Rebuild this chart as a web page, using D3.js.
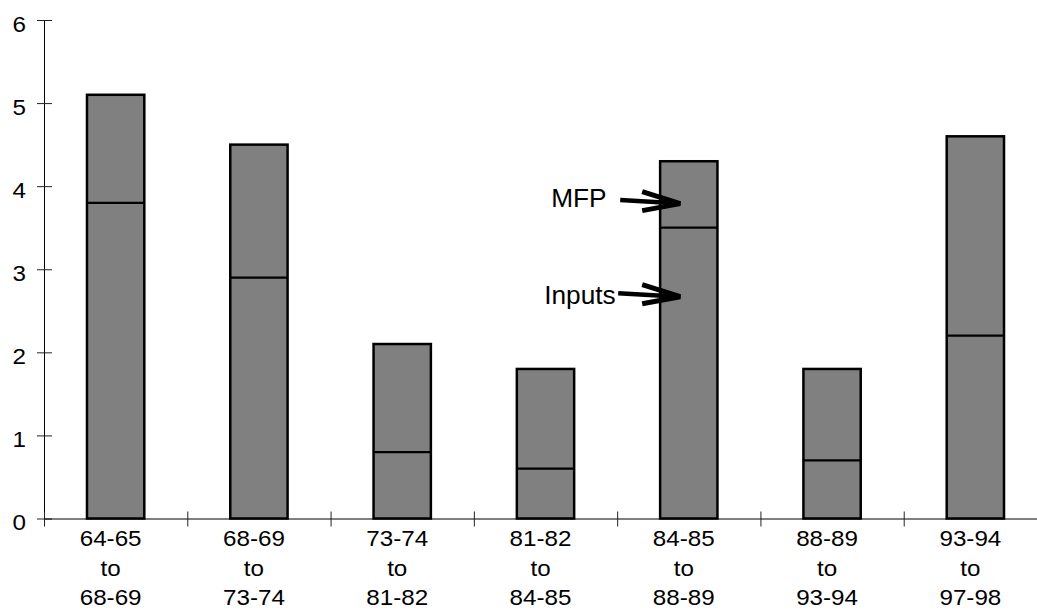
<!DOCTYPE html>
<html>
<head>
<meta charset="utf-8">
<script src="https://cdn.jsdelivr.net/npm/d3@7"></script>
<style>
  html, body { margin: 0; padding: 0; background: #fff; }
  svg { display: block; }
  text { font-family: "Liberation Sans", Arial, Helvetica, sans-serif; fill: #000; }
</style>
</head>
<body>
<svg id="chart" width="1037" height="612"></svg>
<script>
// ---- data ----
const periodsFrom = ["64-65", "68-69", "73-74", "81-82", "84-85", "88-89", "93-94"];
const periodsTo   = ["68-69", "73-74", "81-82", "84-85", "88-89", "93-94", "97-98"];
const categories  = periodsFrom.map((f, i) => f + " to " + periodsTo[i]);
const totalGrowth = [5.1, 4.5, 2.1, 1.8, 4.3, 1.8, 4.6];   // total bar height
const inputsPart  = [3.8, 2.9, 0.8, 0.6, 3.5, 0.7, 2.2];   // inputs share (divider line)
const yTicks      = [0, 1, 2, 3, 4, 5, 6];
const annotations = [
  { label: "MFP",    category: "84-85 to 88-89", value: 3.79 },
  { label: "Inputs", category: "84-85 to 88-89", value: 2.67 }
];

// ---- layout ----
const svg = d3.select("#chart");
const mLeft = 44, mRight = 1047, mTop = 20, mBottom = 518.5;

const y = d3.scaleLinear().domain([0, 6]).range([mBottom, mTop]);
const x = d3.scaleBand().domain(categories).range([mLeft, mRight])
  .paddingInner(0.6).paddingOuter(0.3);
const xEdge = d3.scaleLinear().domain([0, categories.length]).range([mLeft, mRight]);

// ---- bars ----
const bars = svg.append("g");
bars.selectAll("rect").data(categories).join("rect")
  .attr("x", d => x(d))
  .attr("y", (d, i) => y(totalGrowth[i]))
  .attr("width", x.bandwidth())
  .attr("height", (d, i) => y(0) - y(totalGrowth[i]))
  .attr("fill", "#808080")
  .attr("stroke", "#000")
  .attr("stroke-width", 2.5);

bars.selectAll("line").data(categories).join("line")
  .attr("x1", d => x(d))
  .attr("x2", d => x(d) + x.bandwidth())
  .attr("y1", (d, i) => y(inputsPart[i]))
  .attr("y2", (d, i) => y(inputsPart[i]))
  .attr("stroke", "#000")
  .attr("stroke-width", 2.2);

// ---- y axis ----
const yAxis = svg.append("g")
  .attr("transform", `translate(${mLeft},0)`)
  .call(d3.axisLeft(y).tickValues(yTicks).tickFormat(d3.format("d")).tickSizeOuter(0));
yAxis.select(".domain").attr("stroke", "#000").attr("stroke-width", 1);
yAxis.selectAll(".tick line").attr("x1", -7).attr("x2", 8).attr("stroke", "#222");
yAxis.selectAll(".tick text")
  .attr("x", -16.4).attr("dy", null).attr("y", 11)
  .attr("transform", "scale(1.1,1)")
  .style("font-size", "22px")
  .style("font-family", '"Liberation Sans", Arial, sans-serif');

// ---- x axis (ticks at category boundaries) ----
const xAxis = svg.append("g")
  .attr("transform", `translate(0,${mBottom})`)
  .call(d3.axisBottom(xEdge).tickValues(d3.range(0, categories.length + 1)).tickFormat("").tickSizeOuter(0));
xAxis.select(".domain").attr("stroke", "#000").attr("stroke-width", 1);
xAxis.selectAll(".tick line").attr("y1", -7).attr("y2", 8).attr("stroke", "#222");

// ---- x labels ----
const labels = svg.append("g");
const lab = labels.selectAll("g").data(categories).join("g")
  .attr("transform", d => `translate(${x(d) + x.bandwidth() / 2 - 5},${mBottom}) scale(1.1,1)`);
const txt = lab.append("text").attr("text-anchor", "middle").style("font-size", "22px");
txt.append("tspan").attr("x", 0).attr("y", 28).text((d, i) => periodsFrom[i]);
txt.append("tspan").attr("x", 0).attr("y", 58).text("to");
txt.append("tspan").attr("x", 0).attr("y", 87).text((d, i) => periodsTo[i]);

// ---- annotations (arrows) ----
const ann = svg.append("g");
annotations.forEach((a, k) => {
  const tx = x(a.category) + x.bandwidth() * 0.35;
  const ty = y(a.value);
  const shaftLen = k === 0 ? 60 : 62;
  const g = ann.append("g");
  g.append("line")
    .attr("x1", tx - shaftLen).attr("y1", ty - 3.5)
    .attr("x2", tx).attr("y2", ty)
    .attr("stroke", "#000").attr("stroke-width", 4.5);
  g.append("path")
    .attr("d", `M${tx - 38},${ty - 12} L${tx},${ty} L${tx - 38},${ty + 7}`)
    .attr("fill", "none").attr("stroke", "#000").attr("stroke-width", 5)
    .attr("stroke-linejoin", "miter");
  const textX = k === 0 ? tx - 129 : tx - 136;
  const textY = k === 0 ? ty + 3.5 : ty + 7.5;
  g.append("text")
    .attr("transform", `translate(${textX},${textY}) scale(1.05,1)`)
    .style("font-size", "25px")
    .text(a.label);
});
</script>
</body>
</html>
